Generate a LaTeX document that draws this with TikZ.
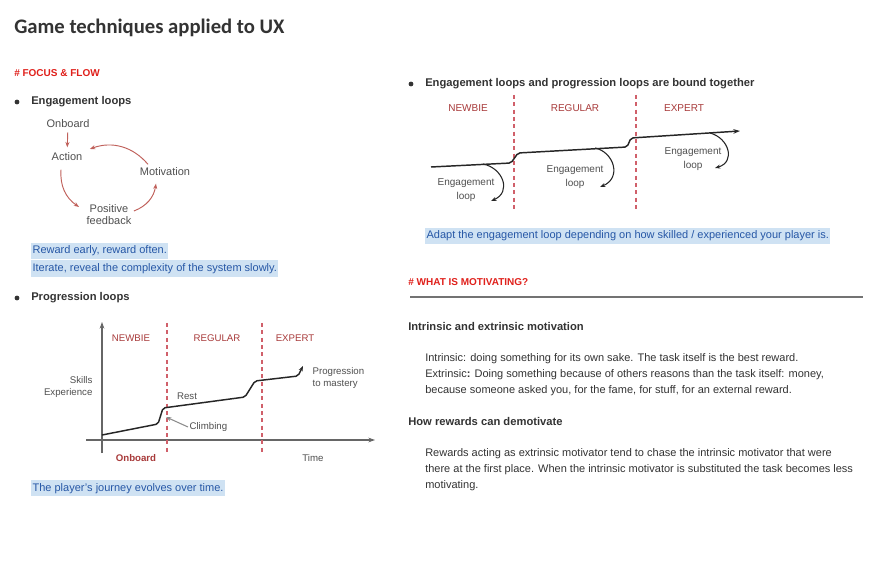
\documentclass[tikz,border=0pt]{standalone}
\usepackage{fontspec}
\setmainfont{Liberation Sans}
\newfontfamily\titlefont{Carlito}
\usetikzlibrary{arrows.meta,positioning,calc}
\definecolor{ink}{HTML}{333333}
\definecolor{grey}{HTML}{505050}
\definecolor{hashred}{HTML}{E0201B}
\definecolor{phasered}{HTML}{A83A3A}
\definecolor{loopred}{HTML}{C0605A}
\definecolor{dashred}{HTML}{D0606A}
\definecolor{notefill}{HTML}{CFE2F3}
\definecolor{noteblue}{HTML}{2657A6}

\begin{document}
\begin{tikzpicture}[
    x=0.75pt, y=-0.75pt,
    heading/.style={anchor=west, inner sep=0pt, text=ink, font=\fontsize{8.4}{10}\selectfont\bfseries},
    hashtag/.style={anchor=west, inner sep=0pt, text=hashred, font=\fontsize{7.5}{9}\selectfont\bfseries},
    bullet/.style={circle, fill=ink, inner sep=0pt, minimum size=3.6pt},
    body/.style={anchor=north west, inner sep=0pt, align=left, text=ink, font=\fontsize{8.25}{12}\selectfont},
    note/.style={anchor=west, fill=notefill, text=noteblue, inner xsep=1pt, inner ysep=2pt,
        text height=6.5pt, text depth=2pt, font=\fontsize{8.25}{9}\selectfont},
    loopbox/.style={inner sep=1pt, align=center, text=grey, font=\fontsize{8.25}{9}\selectfont},
    chartlbl/.style={inner sep=1pt, align=center, text=grey, font=\fontsize{7.25}{9}\selectfont},
    phase/.style={inner sep=0pt, text=phasered, font=\fontsize{7.25}{9}\selectfont},
    cycle/.style={-{Stealth[length=4pt,width=3pt]}, loopred, line width=0.7pt},
    divider/.style={dashred, line width=0.8pt, dash pattern=on 3pt off 2.5pt},
    curve/.style={line width=1.1pt, black!85, rounded corners=1.5pt},
    spin/.style={-{Stealth[length=4pt,width=3pt]}, line width=0.8pt, black!85},
    axis/.style={-{Stealth[length=5pt,width=3.5pt]}, black!60, line width=0.8pt},
    pointer/.style={-{Stealth[length=4pt,width=3pt]}, black!45, line width=0.8pt}
]
\fill[white] (0,0) rectangle (870,566);
\useasboundingbox (0,0) rectangle (870,566);

% Title
\node[anchor=west, inner sep=0pt, text=ink, font=\titlefont\fontsize{15.5}{18}\selectfont\bfseries] (title) at (14,28) {Game techniques applied to UX};

% Focus & flow
\node[hashtag] (focus) at (14,73) {\# FOCUS \& FLOW};
\node[bullet] (b1) at (17,102) {};
\node[heading] (engage) at (31,102) {Engagement loops};

% Engagement loop cycle
\node[loopbox] (onb) at (68,124) {Onboard};
\node[loopbox] (act) at (67,157) {Action};
\node[loopbox] (mot) at (165,172) {Motivation};
\node[loopbox] (pos) at (109,215) {Positive\\feedback};

\draw[cycle, shorten <=2pt, shorten >=3pt] (onb) -- (act);
\draw[cycle] ($(mot.north)+(-17,-2)$) to[bend right=35] ($(act.east)+(6,-8)$);
\draw[cycle] ($(act.south)+(-6,7)$) to[bend right=30] ($(pos.west)+(-6,-8)$);
\draw[cycle] ($(pos.east)+(1,-4)$) to[bend right=30] ($(mot.south)+(-9,6)$);

\node[note] (reward) at (31,251) {Reward early, reward often.};
\node[note, anchor=north west] (iterate) at (reward.south west) {Iterate, reveal the complexity of the system slowly.};

% Progression loops
\node[bullet] (b2) at (17,298) {};
\node[heading] (prog) at (31,298) {Progression loops};

\draw[axis] (102,453) -- (102,322);
\draw[axis] (86,440) -- (375,440);
\draw[divider] (167,323) -- (167,453);
\draw[divider] (262,323) -- (262,453);

\node[phase] (newbie1) at (131,338) {NEWBIE};
\node[phase] (regular1) at (217,338) {REGULAR};
\node[phase] (expert1) at (295,338) {EXPERT};

\draw[curve, -{Stealth[length=4pt,width=3pt]}] (102,435) -- (158,424) -- (163,408) -- (245,397) -- (255,381) -- (298,376) -- (303,366);
\coordinate (climbpt) at (166,417);

\node[chartlbl, align=right, anchor=east] (skills) at (94,387) {Skills\\Experience};
\node[chartlbl] (rest) at (187,396) {Rest};
\node[chartlbl, anchor=west] (climb) at (188,427) {Climbing};
\node[chartlbl, align=left, anchor=west] (mastery) at (311,378) {Progression\\to mastery};
\node[phase, font=\fontsize{7.25}{9}\selectfont\bfseries] (start) at (136,458) {Onboard};
\node[chartlbl] (time) at (313,458) {Time};
\draw[pointer] (climb.west) -- (climbpt);

\node[note] (journey) at (31,488) {The player’s journey evolves over time.};

% Bound together
\node[bullet] (b3) at (411,84) {};
\node[heading] (bound) at (425,84) {Engagement loops and progression loops are bound together};

\node[phase, font=\fontsize{7.5}{9}\selectfont] (newbie2) at (468,108) {NEWBIE};
\node[phase, font=\fontsize{7.5}{9}\selectfont] (regular2) at (575,108) {REGULAR};
\node[phase, font=\fontsize{7.5}{9}\selectfont] (expert2) at (684,108) {EXPERT};
\draw[divider] (514,95) -- (514,210);
\draw[divider] (636,95) -- (636,210);

\draw[curve, -{Stealth[length=5pt,width=3.5pt]}] (431,167) -- (511,163) -- (518,153) -- (627,147) -- (631,138) -- (740,131);
\draw[spin] (483,164) .. controls (503,168) and (512,192) .. (491,201);
\draw[spin] (595,148) .. controls (614,152) and (622,178) .. (600,187);
\draw[spin] (710,133) .. controls (729,138) and (736,162) .. (715,168);

\node[chartlbl, font=\fontsize{7.5}{10.5}\selectfont] (loop1) at (466,190) {Engagement\\loop};
\node[chartlbl, font=\fontsize{7.5}{10.5}\selectfont] (loop2) at (575,177) {Engagement\\loop};
\node[chartlbl, font=\fontsize{7.5}{10.5}\selectfont] (loop3) at (693,159) {Engagement\\loop};

\node[note] (adapt) at (425,236) {Adapt the engagement loop depending on how skilled / experienced your player is.};

% What is motivating
\node[hashtag] (motiv) at (408,282) {\# WHAT IS MOTIVATING?};
\draw[black!55, line width=0.8pt] (410,297) -- (863,297);

\node[heading] (intr) at (408,326) {Intrinsic and extrinsic motivation};
\node[body] (intrtxt) at (425,353) {Intrinsic: doing something for its own sake. The task itself is the best reward.\\
    Extrinsic\textbf{:} Doing something because of others reasons than the task itself: money,\\
    because someone asked you, for the fame, for stuff, for an external reward.};

\node[heading] (demot) at (408,421) {How rewards can demotivate};
\node[body] (demottxt) at (425,448) {Rewards acting as extrinsic motivator tend to chase the intrinsic motivator that were\\
    there at the first place. When the intrinsic motivator is substituted the task becomes less\\
    motivating.};

\end{tikzpicture}
\end{document}
